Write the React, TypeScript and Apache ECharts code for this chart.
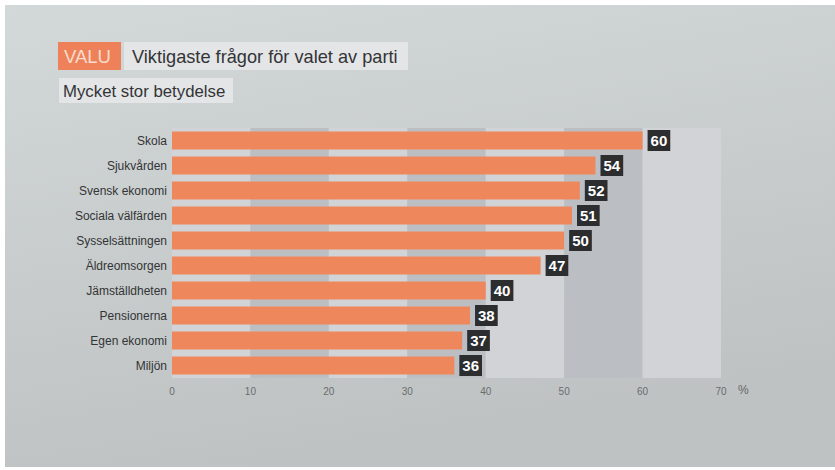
import React, { useEffect, useRef } from "react";
import * as echarts from "echarts";

const categories = [
  "Skola",
  "Sjukvården",
  "Svensk ekonomi",
  "Sociala välfärden",
  "Sysselsättningen",
  "Äldreomsorgen",
  "Jämställdheten",
  "Pensionerna",
  "Egen ekonomi",
  "Miljön",
];
const values = [60, 54, 52, 51, 50, 47, 40, 38, 37, 36];
const xTicks = [0, 10, 20, 30, 40, 50, 60, 70];
const brandLabel = "VALU";
const titleText = "Viktigaste frågor för valet av parti";
const subtitleText = "Mycket stor betydelse";
const unitLabel = "%";

const FONT = "'Liberation Sans', Arial, Helvetica, sans-serif";

export default function App() {
  const ref = useRef<HTMLDivElement>(null);
  useEffect(() => {
    if (!ref.current) return;
    const chart = echarts.init(ref.current, undefined, { renderer: "svg" });
    chart.setOption({
      animation: false,
      backgroundColor: "#ffffff",
      textStyle: { fontFamily: FONT },
      graphic: [
        {
          type: "rect",
          z: -10,
          silent: true,
          shape: { x: 5, y: 5, width: 830, height: 462 },
          style: {
            fill: new echarts.graphic.LinearGradient(0, 0, 0.3, 1, [
              { offset: 0, color: "#D3D8D8" },
              { offset: 1, color: "#BEC2C3" },
            ]),
          },
        },
        {
          type: "rect",
          shape: { x: 58, y: 42, width: 63, height: 28 },
          style: { fill: "#EE8159" },
        },
        {
          type: "text",
          x: 64,
          y: 56.5,
          style: {
            text: brandLabel,
            fill: "#F9DCCB",
            fontSize: 18.5,
            fontFamily: FONT,
            verticalAlign: "middle",
          },
        },
        {
          type: "rect",
          shape: { x: 124, y: 42, width: 284, height: 28 },
          style: { fill: "#E3E5E7" },
        },
        {
          type: "text",
          x: 132,
          y: 56.5,
          style: {
            text: titleText,
            fill: "#333436",
            fontSize: 18.2,
            fontFamily: FONT,
            verticalAlign: "middle",
          },
        },
        {
          type: "rect",
          shape: { x: 59, y: 78, width: 174, height: 25 },
          style: { fill: "#E3E5E7" },
        },
        {
          type: "text",
          x: 63,
          y: 91,
          style: {
            text: subtitleText,
            fill: "#333436",
            fontSize: 16.8,
            fontFamily: FONT,
            verticalAlign: "middle",
          },
        },
      ],
      grid: { left: 172, right: 114, top: 128, bottom: 92, containLabel: false },
      xAxis: {
        type: "value",
        min: xTicks[0],
        max: xTicks[xTicks.length - 1],
        interval: 10,
        name: unitLabel,
        nameLocation: "end",
        nameGap: 17,
        nameTextStyle: {
          color: "#666",
          fontSize: 12,
          verticalAlign: "top",
          padding: [6, 0, 0, 0],
        },
        axisLine: { show: false },
        axisTick: { show: false },
        axisLabel: { color: "#6a6c6e", fontSize: 10, margin: 8 },
        splitLine: { show: false },
        splitArea: {
          show: true,
          areaStyle: { color: ["#D1D3D7", "#BBBFC3"] },
        },
      },
      yAxis: {
        type: "category",
        data: categories,
        inverse: true,
        axisLine: { show: false },
        axisTick: { show: false },
        axisLabel: { color: "#333436", fontSize: 12, margin: 5 },
      },
      series: [
        {
          type: "bar",
          data: values,
          barWidth: 18,
          itemStyle: { color: "#EF875C" },
          label: {
            show: true,
            position: "right",
            distance: 5,
            color: "#ffffff",
            fontWeight: "bold",
            fontSize: 15,
            lineHeight: 15,
            backgroundColor: "#2B2D2F",
            padding: [3, 3, 3, 3],
            fontFamily: FONT,
          },
        },
      ],
    });
    return () => chart.dispose();
  }, []);
  return (
    <div
      ref={ref}
      style={{ position: "fixed", left: 0, top: 0, width: 835, height: 470 }}
    />
  );
}
